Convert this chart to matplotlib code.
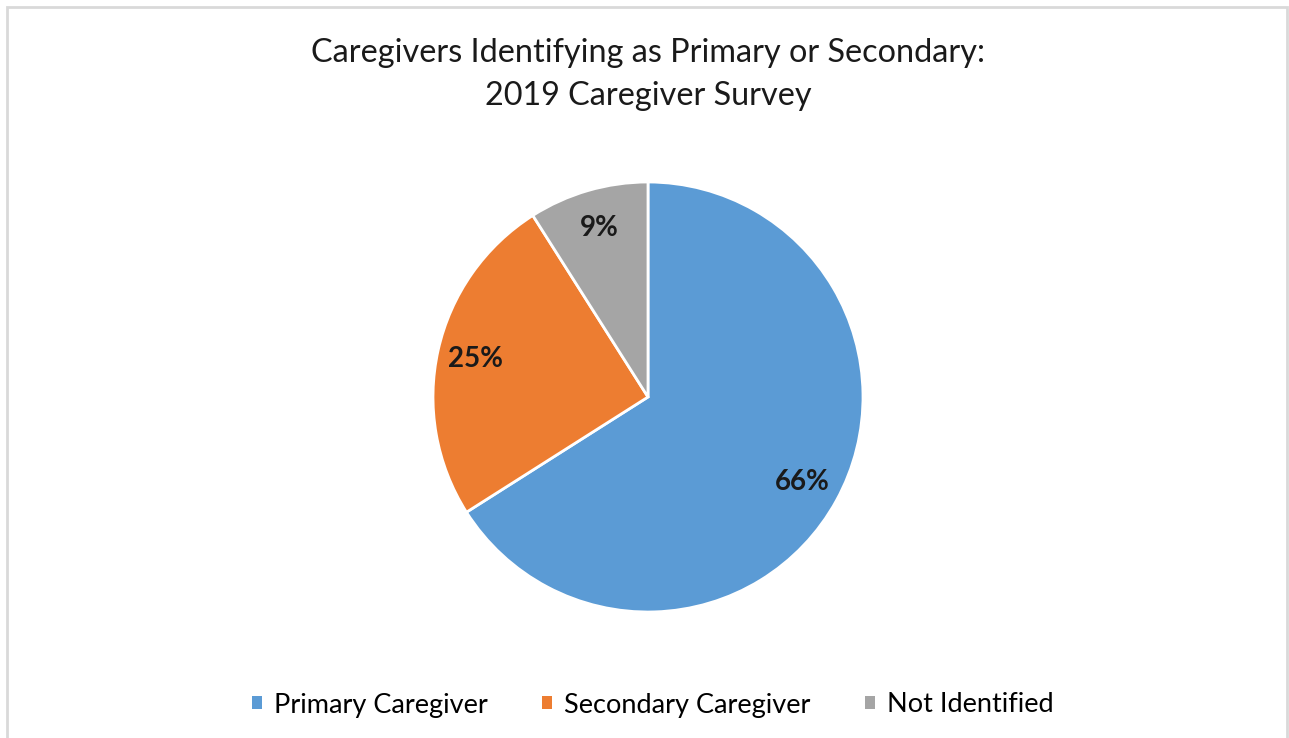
import matplotlib.pyplot as plt
from matplotlib.patches import Patch, Rectangle


W, H = 1289, 738
DPI = 100

TITLE_LINES = ["Caregivers Identifying as Primary or Secondary:", "2019 Caregiver Survey"]
CATEGORIES = ["Primary Caregiver", "Secondary Caregiver", "Not Identified"]
SHARES = [66, 25, 9]
COLORS = ["#5B9BD5", "#ED7D31", "#A5A5A5"]

FONT = "Lato"


def main() -> None:
    fig = plt.figure(figsize=(W / DPI, H / DPI), dpi=DPI)
    fig.patch.set_facecolor("white")

    # Light grey chart frame, open at the bottom edge like the clipped screenshot.
    fig.patches.append(
        Rectangle(
            (7 / W, -0.05),
            (1287 - 7) / W,
            1.05 - 7 / H,
            transform=fig.transFigure,
            fill=False,
            edgecolor="#d9d9d9",
            linewidth=2,
        )
    )

    cx, cy, r = 648, 397, 215
    ax = fig.add_axes([(cx - r) / W, (H - cy - r) / H, 2 * r / W, 2 * r / H])
    ax.pie(
        SHARES,
        colors=COLORS,
        startangle=90,
        counterclock=False,
        autopct=lambda p: f"{p:.0f}%",
        pctdistance=0.82,
        wedgeprops={"edgecolor": "white", "linewidth": 2},
        textprops={"fontsize": 20, "fontweight": "bold", "color": "#1a1a1a", "family": FONT},
    )
    ax.set_xlim(-1, 1)
    ax.set_ylim(-1, 1)
    ax.set_aspect("equal")
    ax.axis("off")

    fig.text(cx / W, 1 - 53 / H, TITLE_LINES[0], ha="center", va="center",
             fontsize=23.3, family=FONT, color="#1a1a1a")
    fig.text(cx / W, 1 - 96 / H, TITLE_LINES[1], ha="center", va="center",
             fontsize=23.3, family=FONT, color="#1a1a1a")

    handles = [Patch(facecolor=c, edgecolor="none") for c in COLORS]
    fig.legend(
        handles,
        CATEGORIES,
        loc="center",
        bbox_to_anchor=(653 / W, 1 - 705 / H),
        ncol=3,
        frameon=False,
        handlelength=0.37,
        handleheight=0.37,
        handletextpad=0.45,
        columnspacing=2.0,
        prop={"family": FONT, "size": 19.5},
    )

    fig.savefig("out.png", dpi=DPI)
    plt.close(fig)


if __name__ == "__main__":
    main()
